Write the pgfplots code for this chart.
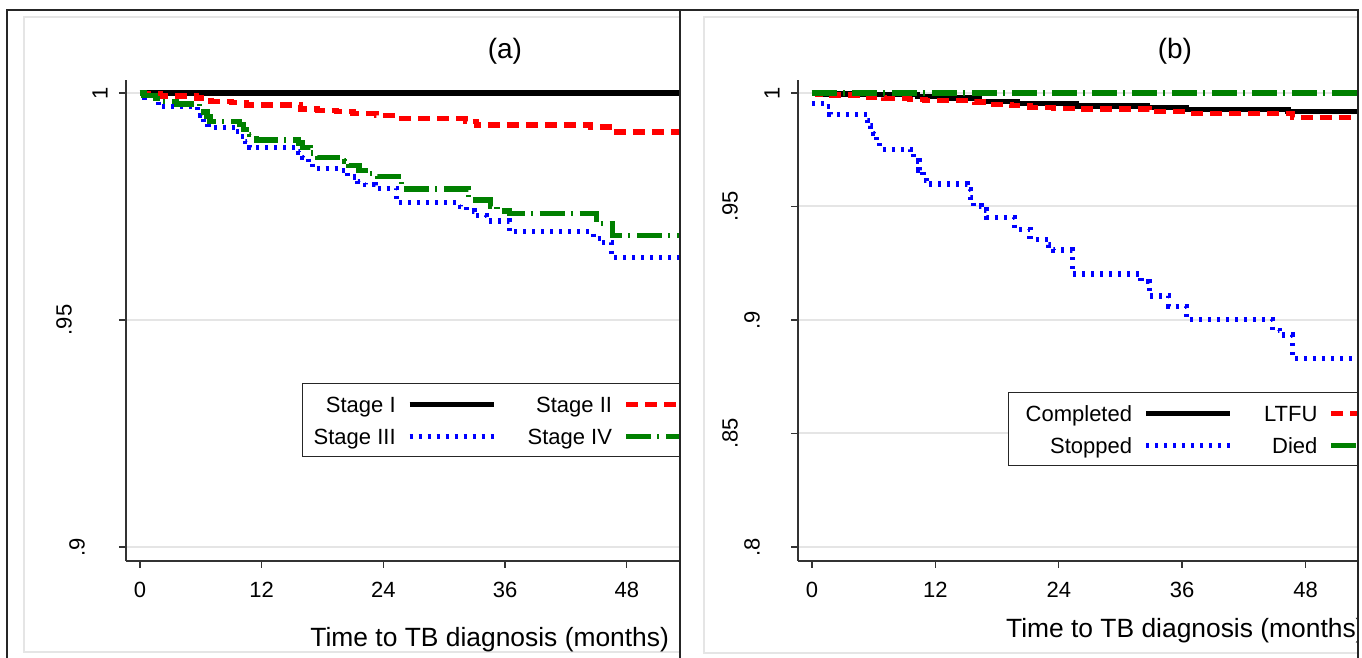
\documentclass[border=0pt]{standalone}
\usepackage{fontspec}
\setmainfont{Liberation Sans}
\usepackage{pgfplots}
\pgfplotsset{compat=1.18}
\usepackage{pgfplotstable}

\definecolor{stred}{RGB}{255,0,0}
\definecolor{stblue}{RGB}{0,0,255}
\definecolor{stgreen}{RGB}{0,128,0}

% panel (a): survival by stage
\pgfplotstableread{
t s
0 1
54 1
}\stageone
\pgfplotstableread{
t s
0 1
0.3 0.9998
2.0 0.99934
5.6 0.9989
7.0 0.9982
9.0 0.9979
10.5 0.99736
15.8 0.99648
17.5 0.9962
19.4 0.9959
21.0 0.99544
23.3 0.9950
25.5 0.99434
32.1 0.9938
33.2 0.99295
44.4 0.9925
46.6 0.99141
54 0.99141
}\stagetwo
\pgfplotstableread{
t s
0 1
0.5 0.9990
1.8 0.9970
5.7 0.9960
6.0 0.9950
6.3 0.9935
6.7 0.99244
9.5 0.9915
9.9 0.9905
10.4 0.9893
10.8 0.98795
15.6 0.9870
16.0 0.9858
16.6 0.9845
17.0 0.98341
19.9 0.9830
20.5 0.9815
21.5 0.9805
22.2 0.9798
23.2 0.9790
25.3 0.97584
31.6 0.9750
32.2 0.9740
33.0 0.9730
34.2 0.9718
36.4 0.96945
44.7 0.9680
45.5 0.9670
46.5 0.96372
54 0.96372
}\stagethree
\pgfplotstableread{
t s
0 1
0.4 0.9994
1.5 0.9988
2.0 0.9982
3.6 0.99758
5.9 0.9968
6.3 0.9958
6.6 0.9948
6.9 0.99368
9.8 0.9930
10.2 0.9920
10.8 0.9908
11.5 0.98965
15.6 0.9890
16.0 0.9880
16.8 0.9868
17.5 0.98576
20.2 0.9850
20.6 0.9840
21.6 0.9830
22.6 0.9822
23.4 0.98157
25.8 0.97886
32.4 0.97643
34.6 0.9750
35.2 0.9740
36.4 0.9735
45.0 0.9713
46.6 0.96857
54 0.96857
}\stagefour

% panel (b): survival by treatment outcome
\pgfplotstableread{
t s
0 1
1 0.9996
5 0.9992
10.3 0.9984
13.5 0.9978
16.3 0.99618
20 0.9955
25.7 0.99427
32.6 0.9935
36.4 0.99281
46.3 0.99178
54 0.99178
}\completed
\pgfplotstableread{
t s
0 1
0.5 0.9996
1.5 0.9991
5.5 0.9981
7 0.9977
9.5 0.9972
11 0.99662
15.8 0.9960
17.2 0.9951
19.4 0.9944
21.2 0.9937
23.5 0.9933
25.7 0.99295
32.8 0.99178
36.4 0.99104
46.7 0.9893
54 0.9893
}\ltfu
\pgfplotstableread{
t s
0 0.9955
1.4 0.9940
1.75 0.9906
5.4 0.9880
5.7 0.9855
6.0 0.9820
6.3 0.9780
6.6 0.9752
9.6 0.9735
9.9 0.9700
10.4 0.9660
10.8 0.9615
11.15 0.95991
15.1 0.9575
15.4 0.9540
15.7 0.95022
16.5 0.9485
17.0 0.94524
19.7 0.9400
21.2 0.9355
23.0 0.9330
23.5 0.93084
25.3 0.92026
32.0 0.9168
32.8 0.91057
34.7 0.90586
36.4 0.9003
44.8 0.8955
45.5 0.8934
46.7 0.88313
54 0.88313
}\stopped
\pgfplotstableread{
t s
0 1
54 1
}\died

\pgfplotsset{
  kmaxis/.style={
    scale only axis, height=240.5pt,
    axis lines=left,
    axis line style={-, line width=0.7pt, black!80},
    tick align=outside, major tick length=3.5pt,
    tick style={line width=0.7pt, black!80},
    xtick={0,12,24,36,48}, xticklabels={0,12,24,36,48},
    xticklabel style={font=\fontsize{11}{13}\selectfont, inner sep=0pt, text height=7.9pt, anchor=north},
    xticklabel shift=6.5pt,
    yticklabel style={font=\fontsize{11}{13}\selectfont, rotate=90, anchor=south, inner sep=0pt},
    yticklabel shift=5.5pt,
    ymajorgrids, major grid style={line width=1pt, black!10},
    legend columns=2, legend plot pos=right, legend cell align=right,
    legend image code/.code={\path[draw=none] (0pt,0pt) -- (66pt,0pt); \draw[##1] (7pt,0pt) -- (49pt,0pt);},
    legend style={anchor=north west, draw=black!85, line width=0.7pt,
      inner ysep=6.25pt, row sep=8pt, font=\fontsize{11}{13}\selectfont,
      nodes={inner sep=0pt, text height=8pt, text depth=0pt}},
    title style={font=\fontsize{14}{16}\selectfont, anchor=base},
    xlabel style={font=\fontsize{13.2}{15}\selectfont},
    every axis plot/.append style={const plot, line width=2.6pt},
  },
  s1/.style={black},
  s2/.style={stred, dash pattern=on 6pt off 3.5pt},
  s3/.style={stblue, dash pattern=on 1.5pt off 3pt},
  s4/.style={stgreen, dash pattern=on 12.5pt off 3pt on 1pt off 3.5pt},
}

\begin{document}
\begin{tikzpicture}
\path[use as bounding box] (0,0) rectangle (681pt,329pt);

% ---- panel (a)
\begin{scope}
\clip (3.5pt,0pt) rectangle (340pt,324pt);
\draw[black!10, line width=0.7pt] (12pt,3pt) rectangle (350pt,320.5pt);
\begin{axis}[kmaxis,
  at={(63pt,48.5pt)}, anchor=south west, width=277pt,
  xmin=-1.38, xmax=53.25, ymin=0.89692, ymax=1.00286,
  ytick={0.9,0.95,1},
  yticklabels={{\raisebox{11.5pt}{.9}},{\raisebox{18pt}{.95}},{1}},
  title={(a)}, title style={at={(0.684,1.0187)}},
  xlabel={Time to TB diagnosis (months)},
  xlabel style={at={(0.9928,-0.1788)}, anchor=base east},
  legend style={at={(0.3177,0.3701)}, inner xsep=5.5pt},
]
\addplot[s1] table {\stageone};
\addplot[s2] table {\stagetwo};
\addplot[s3] table {\stagethree};
\addplot[s4] table {\stagefour};
\legend{Stage I, Stage II, Stage III, Stage IV}
\end{axis}
\end{scope}

% ---- panel (b)
\begin{scope}
\clip (340pt,0pt) rectangle (679pt,324pt);
\draw[black!10, line width=0.7pt] (352pt,2.5pt) rectangle (690pt,320.5pt);
\begin{axis}[kmaxis,
  at={(399pt,48.5pt)}, anchor=south west, width=280pt,
  xmin=-1.36, xmax=53.1, ymin=0.79383, ymax=1.00573,
  ytick={0.8,0.85,0.9,0.95,1},
  yticklabels={{\raisebox{10pt}{.8}},{\raisebox{21pt}{.85}},{\raisebox{10pt}{.9}},{\raisebox{21pt}{.95}},{1}},
  title={(b)}, title style={at={(0.673,1.0187)}},
  xlabel={Time to TB diagnosis (months)},
  xlabel style={at={(0.359,-0.160)}, anchor=base west},
  legend style={at={(0.375,0.3514)}, inner xsep=8.5pt},
]
\addplot[s1] table {\completed};
\addplot[s2] table {\ltfu};
\addplot[s3] table {\stopped};
\addplot[s4] table {\died};
\legend{Completed, LTFU, Stopped, Died}
\end{axis}
\end{scope}

\draw[black!85, line width=1pt] (3.5pt,-2pt) rectangle (340pt,324pt);
\draw[black!85, line width=1pt] (340pt,-2pt) rectangle (679pt,324pt);
\end{tikzpicture}
\end{document}
